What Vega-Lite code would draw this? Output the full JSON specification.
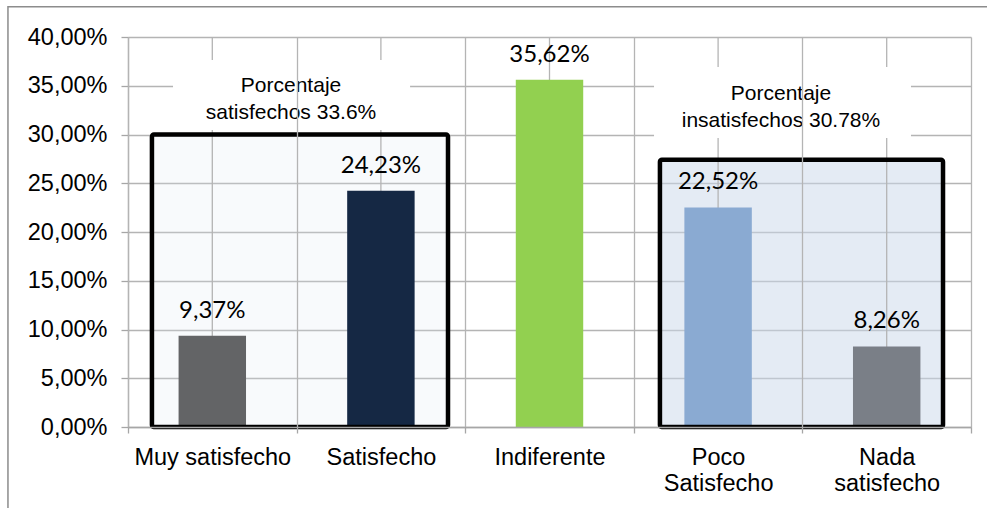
{
  "$schema": "https://vega.github.io/schema/vega-lite/v6.json",
  "width": 843,
  "height": 390,
  "autosize": {"type": "none"},
  "padding": {"left": 128, "top": 37, "right": 16, "bottom": 81},
  "background": "white",
  "config": {
    "view": {"stroke": null},
    "locale": {"number": {"decimal": ",", "thousands": ".", "grouping": [3], "currency": ["", " €"]}},
    "font": "Liberation Sans"
  },
  "datasets": {
    "bars": [
      {"cat": "Muy satisfecho", "v": 0.0937},
      {"cat": "Satisfecho", "v": 0.2423},
      {"cat": "Indiferente", "v": 0.3562},
      {"cat": "Poco Satisfecho", "v": 0.2252},
      {"cat": "Nada satisfecho", "v": 0.0826}
    ],
    "frame": [{"a": "Muy satisfecho", "b": "Nada satisfecho", "top": 0.431, "bottom": -0.1}],
    "box1": [{"a": "Muy satisfecho", "b": "Satisfecho", "top": 0.30, "bottom": 0}],
    "box2": [{"a": "Poco Satisfecho", "b": "Nada satisfecho", "top": 0.274, "bottom": 0}],
    "white1": [{"a": "Muy satisfecho", "b": "Satisfecho", "top": 0.3764, "bottom": 0.3046}],
    "white2": [{"a": "Poco Satisfecho", "b": "Nada satisfecho", "top": 0.3692, "bottom": 0.2964}],
    "note1": [{"a": "Muy satisfecho", "y": 0.3497, "t": "Porcentaje\nsatisfechos 33.6%"}],
    "note2": [{"a": "Poco Satisfecho", "y": 0.3415, "t": "Porcentaje\ninsatisfechos 30.78%"}]
  },
  "layer": [
    {
      "data": {"name": "frame"},
      "mark": {"type": "rect", "fill": null, "fillOpacity": 0, "stroke": "#8c8c8c", "strokeWidth": 1.5, "clip": false},
      "encoding": {
        "x": {"field": "a", "type": "nominal", "bandPosition": -0.712},
        "x2": {"field": "b", "bandPosition": 1.2},
        "y": {"field": "top", "type": "quantitative"},
        "y2": {"field": "bottom"}
      }
    },
    {
      "data": {"name": "box1"},
      "mark": {"type": "rect", "fill": "#dde5f2", "fillOpacity": 0.2},
      "encoding": {
        "x": {"field": "a", "type": "nominal", "bandPosition": 0.142},
        "x2": {"field": "b", "bandPosition": 0.898},
        "y": {"field": "top", "type": "quantitative"},
        "y2": {"field": "bottom"}
      }
    },
    {
      "data": {"name": "box2"},
      "mark": {"type": "rect", "fill": "#c9d7e9", "fillOpacity": 0.5},
      "encoding": {
        "x": {"field": "a", "type": "nominal", "bandPosition": 0.155},
        "x2": {"field": "b", "bandPosition": 0.834},
        "y": {"field": "top", "type": "quantitative"},
        "y2": {"field": "bottom"}
      }
    },
    {
      "data": {"name": "bars"},
      "mark": {"type": "rule", "color": "#b4b4b4", "strokeWidth": 1.3},
      "encoding": {
        "x": {"field": "cat", "type": "nominal", "bandPosition": 0.5}
      }
    },
    {
      "data": {"name": "white1"},
      "mark": {"type": "rect", "fill": "white"},
      "encoding": {
        "x": {"field": "a", "type": "nominal", "bandPosition": 0.267},
        "x2": {"field": "b", "bandPosition": 0.673},
        "y": {"field": "top", "type": "quantitative"},
        "y2": {"field": "bottom"}
      }
    },
    {
      "data": {"name": "white2"},
      "mark": {"type": "rect", "fill": "white"},
      "encoding": {
        "x": {"field": "a", "type": "nominal", "bandPosition": 0.12},
        "x2": {"field": "b", "bandPosition": 0.644},
        "y": {"field": "top", "type": "quantitative"},
        "y2": {"field": "bottom"}
      }
    },
    {
      "data": {"name": "bars"},
      "mark": {"type": "bar", "width": {"band": 0.4}},
      "encoding": {
        "x": {
          "field": "cat", "type": "nominal", "sort": null,
          "scale": {"type": "band", "paddingInner": 0, "paddingOuter": 0, "domain": ["Muy satisfecho", "Satisfecho", "Indiferente", "Poco Satisfecho", "Nada satisfecho"]},
          "axis": {
            "title": null, "labelAngle": 0, "tickBand": "extent", "grid": true,
            "gridColor": "#b4b4b4", "gridWidth": 1.3,
            "domainColor": "#a6a6a6", "domainWidth": 1.3, "tickColor": "#a6a6a6", "tickWidth": 1.3, "tickSize": 6,
            "labelFont": "Liberation Sans", "labelFontSize": 23.5, "labelColor": "#000000",
            "labelPadding": 12, "labelBaseline": "top", "labelLineHeight": 26, "labelOffset": 0, "labelAlign": "center",
            "labelExpr": "(indexof(datum.label,'Poco')==0 || indexof(datum.label,'Nada')==0) ? split(datum.label,' ') : datum.label"
          }
        },
        "y": {
          "field": "v", "type": "quantitative",
          "scale": {"domain": [0, 0.4], "nice": false, "zero": true},
          "axis": {
            "title": null, "values": [0, 0.05, 0.1, 0.15, 0.2, 0.25, 0.3, 0.35, 0.4], "format": ".2%",
            "grid": true, "gridColor": "#b4b4b4", "gridWidth": 1.3,
            "domainColor": "#a6a6a6", "domainWidth": 1.3, "tickColor": "#a6a6a6", "tickWidth": 1.3, "tickSize": 7,
            "labelFont": "Liberation Sans", "labelFontSize": 23.5, "labelColor": "#000000", "labelPadding": 14
          }
        },
        "color": {
          "field": "cat", "type": "nominal", "legend": null,
          "scale": {"domain": ["Muy satisfecho", "Satisfecho", "Indiferente", "Poco Satisfecho", "Nada satisfecho"],
                    "range": ["#636466", "#152844", "#92d050", "#8aaad2", "#7a7f87"]}
        }
      }
    },
    {
      "data": {"name": "bars"},
      "mark": {"type": "text", "font": "Lato", "fontSize": 24, "dy": -18, "baseline": "alphabetic", "color": "#000000"},
      "encoding": {
        "x": {"field": "cat", "type": "nominal", "bandPosition": 0.5},
        "y": {"field": "v", "type": "quantitative"},
        "text": {"field": "v", "type": "quantitative", "format": ".2%"}
      }
    },
    {
      "data": {"name": "box1"},
      "mark": {"type": "rect", "fillOpacity": 0, "stroke": "#000000", "strokeWidth": 4.5, "cornerRadius": 2},
      "encoding": {
        "x": {"field": "a", "type": "nominal", "bandPosition": 0.142},
        "x2": {"field": "b", "bandPosition": 0.898},
        "y": {"field": "top", "type": "quantitative"},
        "y2": {"field": "bottom"}
      }
    },
    {
      "data": {"name": "box2"},
      "mark": {"type": "rect", "fillOpacity": 0, "stroke": "#000000", "strokeWidth": 4.5, "cornerRadius": 2},
      "encoding": {
        "x": {"field": "a", "type": "nominal", "bandPosition": 0.155},
        "x2": {"field": "b", "bandPosition": 0.834},
        "y": {"field": "top", "type": "quantitative"},
        "y2": {"field": "bottom"}
      }
    },
    {
      "data": {"name": "note1"},
      "mark": {"type": "text", "font": "Liberation Sans", "fontSize": 21, "lineHeight": 27, "lineBreak": "\n", "align": "center", "baseline": "middle", "color": "#000000"},
      "encoding": {
        "x": {"field": "a", "type": "nominal", "bandPosition": 0.967},
        "y": {"field": "y", "type": "quantitative"},
        "text": {"field": "t"}
      }
    },
    {
      "data": {"name": "note2"},
      "mark": {"type": "text", "font": "Liberation Sans", "fontSize": 21, "lineHeight": 27, "lineBreak": "\n", "align": "center", "baseline": "middle", "color": "#000000"},
      "encoding": {
        "x": {"field": "a", "type": "nominal", "bandPosition": 0.873},
        "y": {"field": "y", "type": "quantitative"},
        "text": {"field": "t"}
      }
    }
  ]
}
